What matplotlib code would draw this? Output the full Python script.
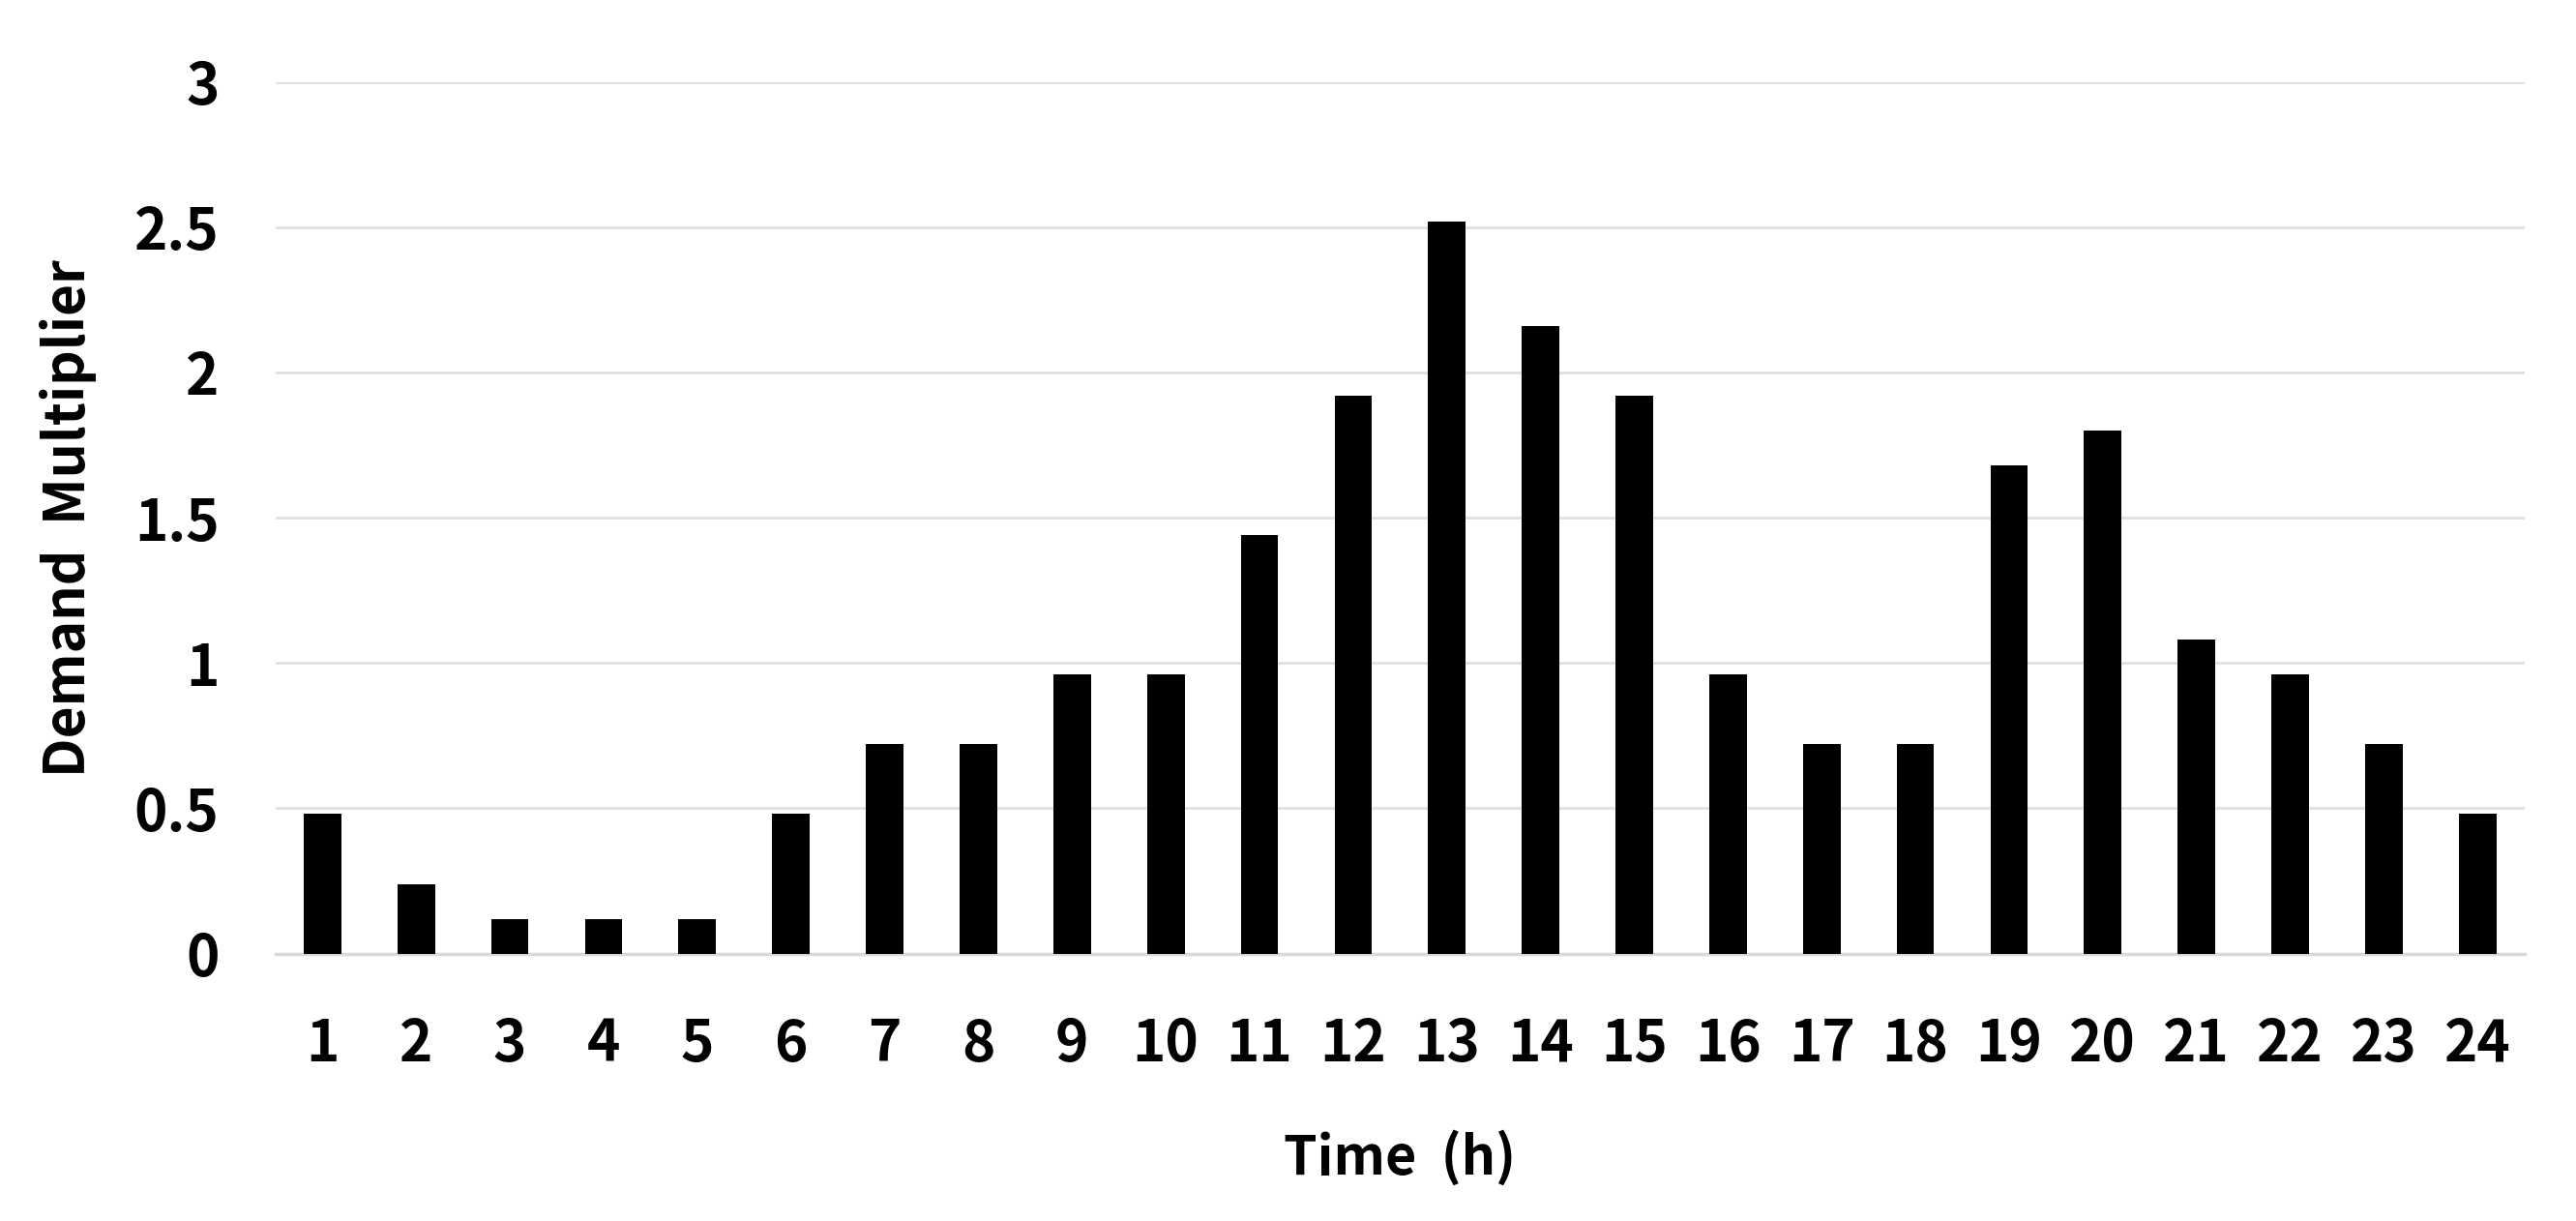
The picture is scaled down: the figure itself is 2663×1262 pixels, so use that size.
import matplotlib
matplotlib.use("Agg")
import matplotlib.pyplot as plt
import numpy as np

# --- DATOS ---
horas = [str(h) for h in range(1, 25)]
multiplicador = [0.48, 0.24, 0.12, 0.12, 0.12, 0.48, 0.72, 0.72, 0.96, 0.96,
                 1.44, 1.92, 2.52, 2.16, 1.92, 0.96, 0.72, 0.72, 1.68, 1.80,
                 1.08, 0.96, 0.72, 0.48]
ticks_y = [0, 0.5, 1, 1.5, 2, 2.5, 3]
etiquetas_y = ["0", "0.5", "1", "1.5", "2", "2.5", "3"]

plt.rcParams['font.family'] = ['Noto Sans CJK KR', 'DejaVu Sans']
plt.rcParams['font.weight'] = 'bold'

fig = plt.figure(figsize=(26.63, 12.62), dpi=100)
ax = fig.add_axes([0.107, 0.219, 0.873, 0.714])

x = np.arange(len(horas))
ax.bar(x, multiplicador, width=0.4, color='black', zorder=3)

ax.set_xlim(-0.5, len(horas) - 0.5)
ax.set_ylim(0, 3)
ax.set_xticks(x)
ax.set_xticklabels(horas)
ax.set_yticks(ticks_y)
ax.set_yticklabels(etiquetas_y)

# rejilla gris clara
ax.grid(axis='y', color='#e0e0e0', linewidth=2, zorder=0)
for lado in ['top', 'right', 'left']:
    ax.spines[lado].set_visible(False)
ax.spines['bottom'].set_color('#d9d9d9')
ax.spines['bottom'].set_linewidth(2.5)
ax.spines['bottom'].set_zorder(2)

ax.tick_params(axis='both', length=0, labelsize=42)
ax.tick_params(axis='x', pad=46)
ax.tick_params(axis='y', pad=42)

ax.set_xlabel("Time  (h)", fontsize=40, fontweight='bold', labelpad=42)
ax.set_ylabel("Demand  Multiplier", fontsize=41, fontweight='bold', labelpad=28)

fig.savefig("out.png", dpi=100)
